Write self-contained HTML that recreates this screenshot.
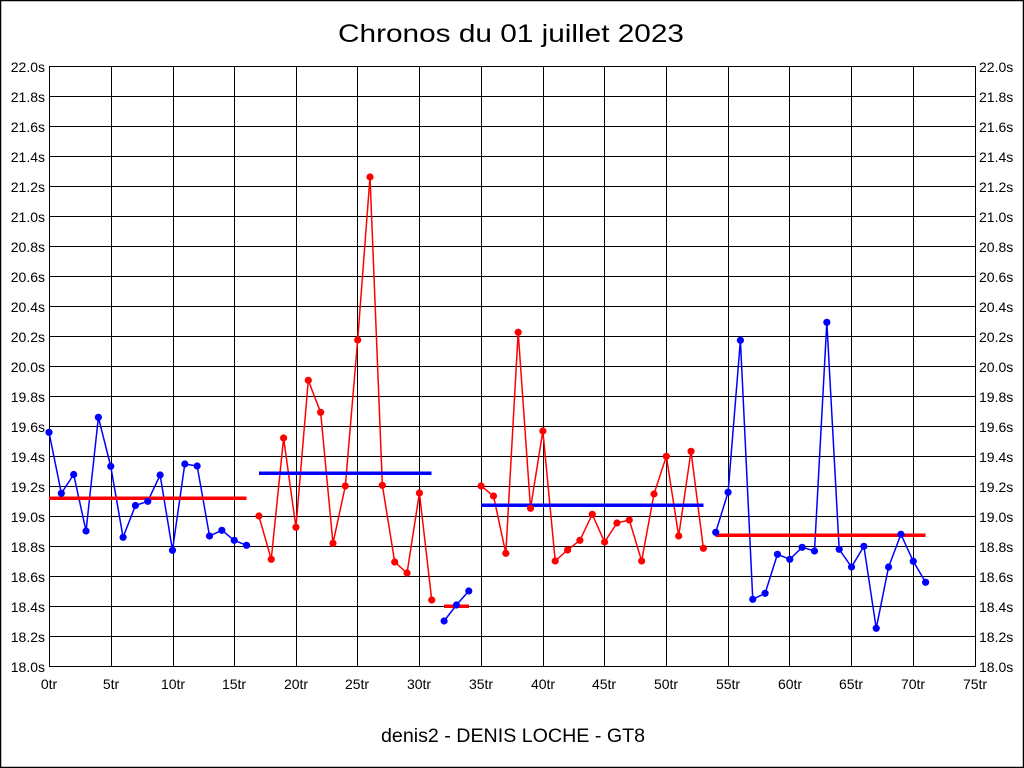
<!DOCTYPE html>
<html>
<head>
<meta charset="utf-8">
<style>
html,body{margin:0;padding:0;background:#fff;}
svg{display:block;}
text{font-family:"Liberation Sans",Arial,sans-serif;fill:#000;}
</style>
</head>
<body>
<svg width="1024" height="768" viewBox="0 0 1024 768" xmlns="http://www.w3.org/2000/svg">
<rect x="0" y="0" width="1024" height="768" fill="#fff"/>
<rect x="0.5" y="0.5" width="1023" height="767" fill="none" stroke="#000" stroke-width="1.5"/>

<text x="338" y="42" font-size="25" textLength="346" lengthAdjust="spacingAndGlyphs">Chronos du 01 juillet 2023</text>
<text x="381" y="742" font-size="19.5" textLength="264" lengthAdjust="spacingAndGlyphs">denis2 - DENIS LOCHE - GT8</text>

<g stroke="#000" stroke-width="1" shape-rendering="crispEdges" fill="none">
<path d="M49.5 66.5H975.5M49.5 96.5H975.5M49.5 126.5H975.5M49.5 156.5H975.5M49.5 186.5H975.5M49.5 216.5H975.5M49.5 246.5H975.5M49.5 276.5H975.5M49.5 306.5H975.5M49.5 336.5H975.5M49.5 366.5H975.5M49.5 396.5H975.5M49.5 426.5H975.5M49.5 456.5H975.5M49.5 486.5H975.5M49.5 516.5H975.5M49.5 546.5H975.5M49.5 576.5H975.5M49.5 606.5H975.5M49.5 636.5H975.5M49.5 666.5H975.5"/>
<path d="M49.5 66V667M111.5 66V667M173.5 66V667M234.5 66V667M296.5 66V667M357.5 66V667M419.5 66V667M481.5 66V667M543.5 66V667M604.5 66V667M666.5 66V667M728.5 66V667M789.5 66V667M851.5 66V667M913.5 66V667M975.5 66V667"/>
</g>

<g font-size="14" text-anchor="end">
<text x="45" y="72">22.0s</text>
<text x="45" y="102">21.8s</text>
<text x="45" y="132">21.6s</text>
<text x="45" y="162">21.4s</text>
<text x="45" y="192">21.2s</text>
<text x="45" y="222">21.0s</text>
<text x="45" y="252">20.8s</text>
<text x="45" y="282">20.6s</text>
<text x="45" y="312">20.4s</text>
<text x="45" y="342">20.2s</text>
<text x="45" y="372">20.0s</text>
<text x="45" y="402">19.8s</text>
<text x="45" y="432">19.6s</text>
<text x="45" y="462">19.4s</text>
<text x="45" y="492">19.2s</text>
<text x="45" y="522">19.0s</text>
<text x="45" y="552">18.8s</text>
<text x="45" y="582">18.6s</text>
<text x="45" y="612">18.4s</text>
<text x="45" y="642">18.2s</text>
<text x="45" y="672">18.0s</text>
</g>
<g font-size="14" text-anchor="start">
<text x="979" y="72">22.0s</text>
<text x="979" y="102">21.8s</text>
<text x="979" y="132">21.6s</text>
<text x="979" y="162">21.4s</text>
<text x="979" y="192">21.2s</text>
<text x="979" y="222">21.0s</text>
<text x="979" y="252">20.8s</text>
<text x="979" y="282">20.6s</text>
<text x="979" y="312">20.4s</text>
<text x="979" y="342">20.2s</text>
<text x="979" y="372">20.0s</text>
<text x="979" y="402">19.8s</text>
<text x="979" y="432">19.6s</text>
<text x="979" y="462">19.4s</text>
<text x="979" y="492">19.2s</text>
<text x="979" y="522">19.0s</text>
<text x="979" y="552">18.8s</text>
<text x="979" y="582">18.6s</text>
<text x="979" y="612">18.4s</text>
<text x="979" y="642">18.2s</text>
<text x="979" y="672">18.0s</text>
</g>
<g font-size="14" text-anchor="middle">
<text x="49" y="689">0tr</text>
<text x="111" y="689">5tr</text>
<text x="173" y="689">10tr</text>
<text x="234" y="689">15tr</text>
<text x="296" y="689">20tr</text>
<text x="357" y="689">25tr</text>
<text x="419" y="689">30tr</text>
<text x="481" y="689">35tr</text>
<text x="543" y="689">40tr</text>
<text x="604" y="689">45tr</text>
<text x="666" y="689">50tr</text>
<text x="728" y="689">55tr</text>
<text x="790" y="689">60tr</text>
<text x="851" y="689">65tr</text>
<text x="913" y="689">70tr</text>
<text x="975" y="689">75tr</text>
</g>

<!-- series lines -->
<g fill="none" stroke-width="1.5">
<polyline stroke="#0000ff" points="49,432.3 61.35,493.3 73.69,474.5 86.04,531 98.39,417.3 110.73,466.3 123.08,537.3 135.43,505.5 147.77,501.3 160.12,475 172.47,550.3 184.81,464 197.16,466 209.51,536 221.85,530.3 234.2,540.3 246.55,545.3"/>
<polyline stroke="#ff0000" points="258.89,516 271.24,559.3 283.59,438 295.93,527.3 308.28,380.3 320.63,412.3 332.97,543.3 345.32,486 357.67,340 370.01,177 382.36,485.3 394.71,562 407.05,573 419.4,493 431.75,600"/>
<polyline stroke="#0000ff" points="444.09,621 456.44,605 468.79,591"/>
<polyline stroke="#ff0000" points="481.13,486 493.48,496 505.83,553.3 518.17,332.3 530.52,508.3 542.87,431 555.21,561 567.56,550 579.91,540.3 592.25,514.3 604.6,542 616.95,523 629.29,520 641.64,561 653.99,494 666.33,456.3 678.68,536 691.03,451.3 703.37,548.3"/>
<polyline stroke="#0000ff" points="715.72,532.3 728.07,492.3 740.41,340.3 752.76,599.3 765.11,593.3 777.45,554.3 789.8,559.3 802.15,547.3 814.49,551 826.84,322.3 839.19,549.3 851.53,567 863.88,546.3 876.23,628.3 888.57,567 900.92,534.3 913.27,561.3 925.61,582.3"/>
</g>

<!-- average lines -->
<g stroke-width="3.2" shape-rendering="crispEdges">
<line x1="49" y1="498.3" x2="246.5" y2="498.3" stroke="#ff0000"/>
<line x1="259" y1="473.3" x2="431.7" y2="473.3" stroke="#0000ff"/>
<line x1="444" y1="606.3" x2="468.8" y2="606.3" stroke="#ff0000"/>
<line x1="481" y1="505.3" x2="703.4" y2="505.3" stroke="#0000ff"/>
<line x1="715.7" y1="535.3" x2="925.6" y2="535.3" stroke="#ff0000"/>
</g>

<!-- markers -->
<g fill="#0000ff">
<circle cx="49" cy="432.3" r="3.6"/><circle cx="61.35" cy="493.3" r="3.6"/><circle cx="73.69" cy="474.5" r="3.6"/><circle cx="86.04" cy="531" r="3.6"/><circle cx="98.39" cy="417.3" r="3.6"/><circle cx="110.73" cy="466.3" r="3.6"/><circle cx="123.08" cy="537.3" r="3.6"/><circle cx="135.43" cy="505.5" r="3.6"/><circle cx="147.77" cy="501.3" r="3.6"/><circle cx="160.12" cy="475" r="3.6"/><circle cx="172.47" cy="550.3" r="3.6"/><circle cx="184.81" cy="464" r="3.6"/><circle cx="197.16" cy="466" r="3.6"/><circle cx="209.51" cy="536" r="3.6"/><circle cx="221.85" cy="530.3" r="3.6"/><circle cx="234.2" cy="540.3" r="3.6"/><circle cx="246.55" cy="545.3" r="3.6"/>
<circle cx="444.09" cy="621" r="3.6"/><circle cx="456.44" cy="605" r="3.6"/><circle cx="468.79" cy="591" r="3.6"/>
<circle cx="715.72" cy="532.3" r="3.6"/><circle cx="728.07" cy="492.3" r="3.6"/><circle cx="740.41" cy="340.3" r="3.6"/><circle cx="752.76" cy="599.3" r="3.6"/><circle cx="765.11" cy="593.3" r="3.6"/><circle cx="777.45" cy="554.3" r="3.6"/><circle cx="789.8" cy="559.3" r="3.6"/><circle cx="802.15" cy="547.3" r="3.6"/><circle cx="814.49" cy="551" r="3.6"/><circle cx="826.84" cy="322.3" r="3.6"/><circle cx="839.19" cy="549.3" r="3.6"/><circle cx="851.53" cy="567" r="3.6"/><circle cx="863.88" cy="546.3" r="3.6"/><circle cx="876.23" cy="628.3" r="3.6"/><circle cx="888.57" cy="567" r="3.6"/><circle cx="900.92" cy="534.3" r="3.6"/><circle cx="913.27" cy="561.3" r="3.6"/><circle cx="925.61" cy="582.3" r="3.6"/>
</g>
<g fill="#ff0000">
<circle cx="258.89" cy="516" r="3.6"/><circle cx="271.24" cy="559.3" r="3.6"/><circle cx="283.59" cy="438" r="3.6"/><circle cx="295.93" cy="527.3" r="3.6"/><circle cx="308.28" cy="380.3" r="3.6"/><circle cx="320.63" cy="412.3" r="3.6"/><circle cx="332.97" cy="543.3" r="3.6"/><circle cx="345.32" cy="486" r="3.6"/><circle cx="357.67" cy="340" r="3.6"/><circle cx="370.01" cy="177" r="3.6"/><circle cx="382.36" cy="485.3" r="3.6"/><circle cx="394.71" cy="562" r="3.6"/><circle cx="407.05" cy="573" r="3.6"/><circle cx="419.4" cy="493" r="3.6"/><circle cx="431.75" cy="600" r="3.6"/>
<circle cx="481.13" cy="486" r="3.6"/><circle cx="493.48" cy="496" r="3.6"/><circle cx="505.83" cy="553.3" r="3.6"/><circle cx="518.17" cy="332.3" r="3.6"/><circle cx="530.52" cy="508.3" r="3.6"/><circle cx="542.87" cy="431" r="3.6"/><circle cx="555.21" cy="561" r="3.6"/><circle cx="567.56" cy="550" r="3.6"/><circle cx="579.91" cy="540.3" r="3.6"/><circle cx="592.25" cy="514.3" r="3.6"/><circle cx="604.6" cy="542" r="3.6"/><circle cx="616.95" cy="523" r="3.6"/><circle cx="629.29" cy="520" r="3.6"/><circle cx="641.64" cy="561" r="3.6"/><circle cx="653.99" cy="494" r="3.6"/><circle cx="666.33" cy="456.3" r="3.6"/><circle cx="678.68" cy="536" r="3.6"/><circle cx="691.03" cy="451.3" r="3.6"/><circle cx="703.37" cy="548.3" r="3.6"/>
</g>
</svg>
</body>
</html>
